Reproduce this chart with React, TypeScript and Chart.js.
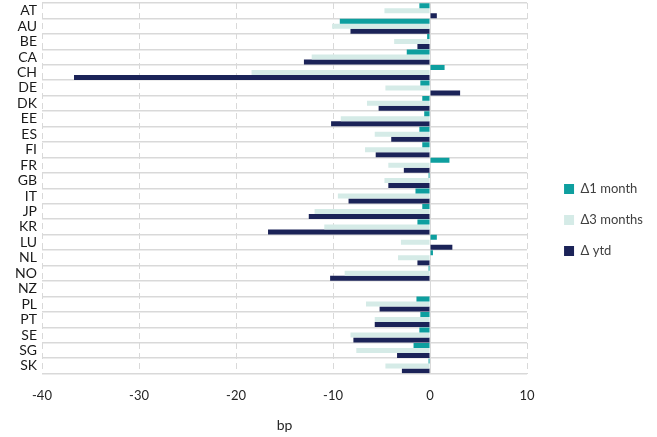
import React, { useEffect, useRef } from "react";
import { Chart, registerables } from "chart.js";

Chart.register(...registerables);

const countries = ["AT","AU","BE","CA","CH","DE","DK","EE","ES","FI","FR","GB","IT","JP","KR","LU","NL","NO","NZ","PL","PT","SE","SG","SK"];
const oneMonth = [-1.1,-9.3,-0.3,-2.4,1.5,-1.0,-0.8,-0.6,-1.1,-0.8,2.0,-0.15,-1.5,-0.8,-1.3,0.7,0.3,-0.15,null,-1.4,-1.0,-1.1,-1.7,-0.15];
const threeMonths = [-4.7,-10.1,-3.7,-12.2,-18.4,-4.6,-6.5,-9.2,-5.7,-6.7,-4.3,-4.7,-9.5,-11.9,-10.9,-3.0,-3.3,-8.8,null,-6.6,-5.7,-8.2,-7.6,-4.6];
const ytd = [0.7,-8.2,-1.3,-13.0,-36.7,3.1,-5.3,-10.2,-4.0,-5.6,-2.7,-4.3,-8.4,-12.5,-16.7,2.3,-1.3,-10.3,null,-5.2,-5.7,-7.9,-3.4,-2.9];
const seriesNames = ["\u03941 month", "\u03943 months", "\u0394 ytd"];
const xMin = -40;
const xMax = 10;
const xStep = 10;
const axisTitle = "bp";

const FONT = "Lato, 'Open Sans', sans-serif";

export default function App() {
  const ref = useRef<HTMLCanvasElement | null>(null);
  useEffect(() => {
    document.body.style.margin = "0";
    const canvas = ref.current;
    if (!canvas) return;
    const chart = new Chart(canvas, {
      type: "bar",
      data: {
        labels: countries,
        datasets: [
          { label: seriesNames[0], data: oneMonth, backgroundColor: "#0e9f9f" },
          { label: seriesNames[1], data: threeMonths, backgroundColor: "#d5ebe7" },
          { label: seriesNames[2], data: ytd, backgroundColor: "#1b2358" },
        ],
      },
      options: {
        indexAxis: "y",
        animation: false,
        responsive: false,
        datasets: { bar: { categoryPercentage: 0.97, barPercentage: 1.0 } },
        layout: { padding: { top: 3, bottom: 0, left: 0, right: 4 } },
        plugins: {
          tooltip: { enabled: false },
          legend: {
            position: "right",
            labels: {
              boxWidth: 10,
              boxHeight: 10,
              padding: 18,
              color: "#404040",
              font: { family: FONT, size: 13 },
            },
          },
        },
        scales: {
          x: {
            type: "linear",
            min: xMin,
            max: xMax,
            ticks: {
              stepSize: xStep,
              padding: 14,
              color: "#262626",
              font: { family: FONT, size: 13 },
            },
            grid: {
              drawTicks: false,
              color: "#d9d9d9",
              lineWidth: 1,
            },
            border: {
              display: false,
              dash: (ctx: any) => (ctx.tick && ctx.tick.value === 0 ? [] : [6, 4]),
            },
            title: {
              display: true,
              text: axisTitle,
              color: "#262626",
              font: { family: FONT, size: 14 },
              padding: { top: 0, bottom: 3 },
            },
          },
          y: {
            type: "category",
            afterFit: (scale: any) => {
              scale.width = 42;
              scale.paddingTop = 0;
              scale.paddingBottom = 0;
            },
            ticks: {
              padding: 5,
              color: "#1a1a1a",
              font: { family: FONT, size: 14 },
              autoSkip: false,
            },
            grid: {
              drawTicks: false,
              color: "#d9d9d9",
              lineWidth: 1.5,
            },
            border: { display: false },
          },
          gap: {
            type: "linear",
            axis: "y",
            position: "right",
            display: true,
            ticks: { display: false },
            grid: { display: false, drawTicks: false },
            border: { display: false },
            afterFit: (scale: any) => {
              scale.width = 19;
              scale.paddingTop = 0;
              scale.paddingBottom = 0;
            },
          },
        },
      },
    });
    return () => chart.destroy();
  }, []);
  return (
    <div style={{ width: 657, height: 437 }}>
      <canvas ref={ref} width={657} height={437} style={{ display: "block" }} />
    </div>
  );
}
